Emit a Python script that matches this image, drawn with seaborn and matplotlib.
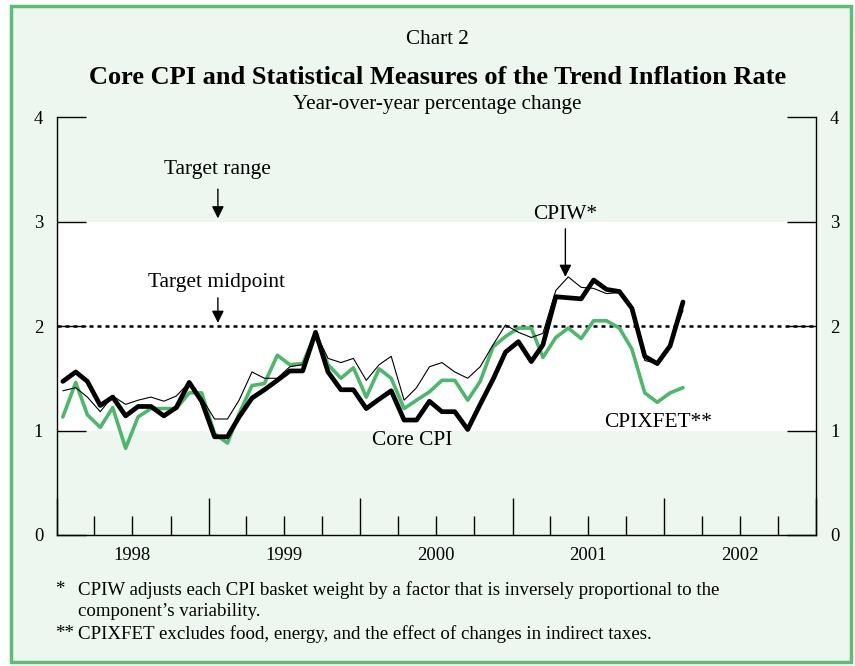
import matplotlib
matplotlib.use("Agg")
import pandas as pd
import seaborn as sns
import matplotlib.pyplot as plt
import matplotlib.dates as mdates
from matplotlib.patches import Rectangle
from matplotlib.ticker import FuncFormatter, NullFormatter


# monthly, Jan 1998 - Feb 2002 (plotted mid-month)
months = pd.date_range("1998-01-01", periods=50, freq="MS") + pd.Timedelta(days=14)

core_cpi = [1.47, 1.56, 1.47, 1.24, 1.32, 1.14, 1.23, 1.23, 1.14, 1.22,
            1.46, 1.28, 0.94, 0.94, 1.13, 1.31, 1.39, 1.48, 1.57, 1.57,
            1.94, 1.56, 1.39, 1.39, 1.21, 1.30, 1.38, 1.10, 1.10, 1.28,
            1.18, 1.18, 1.01, 1.25, 1.49, 1.75, 1.85, 1.66, 1.82, 2.28,
            2.27, 2.26, 2.44, 2.35, 2.33, 2.17, 1.71, 1.64, 1.81, 2.23]

cpiw = [1.38, 1.41, 1.32, 1.18, 1.33, 1.25, 1.29, 1.32, 1.28, 1.33,
        1.46, 1.31, 1.11, 1.11, 1.29, 1.56, 1.50, 1.50, 1.61, 1.63,
        1.94, 1.69, 1.65, 1.69, 1.48, 1.63, 1.71, 1.29, 1.41, 1.61,
        1.65, 1.56, 1.50, 1.61, 1.82, 2.01, 1.94, 1.89, 1.93, 2.34,
        2.47, 2.37, 2.36, 2.31, 2.32, 2.17, 1.67, 1.64, 1.81, 2.15]

cpixfet = [1.13, 1.46, 1.15, 1.03, 1.22, 0.83, 1.13, 1.21, 1.21, 1.21,
           1.36, 1.36, 0.97, 0.88, 1.16, 1.43, 1.45, 1.72, 1.63, 1.64,
           1.93, 1.63, 1.50, 1.60, 1.32, 1.59, 1.50, 1.21, 1.29, 1.37,
           1.48, 1.48, 1.29, 1.47, 1.80, 1.90, 1.98, 1.98, 1.70, 1.89,
           1.98, 1.88, 2.05, 2.05, 1.98, 1.78, 1.36, 1.27, 1.36, 1.41]

target_low, target_mid, target_high = 1, 2, 3
y_ticks = [0, 1, 2, 3, 4]

footnote_marks = ["*", "", "**"]
footnote_lines = [
    "CPIW adjusts each CPI basket weight by a factor that is inversely proportional to the",
    "component\u2019s variability.",
    "CPIXFET excludes food, energy, and the effect of changes in indirect taxes.",
]


sns.set_theme(style="ticks", rc={"text.color": "black", "xtick.color": "black",
                                 "ytick.color": "black", "axes.edgecolor": "black"})
plt.rcParams["font.family"] = ["Liberation Serif", "DejaVu Serif"]

mint = "#edf7ef"
green = "#4db86c"

fig = plt.figure(figsize=(8.55, 6.66), dpi=100)
fig.patch.set_facecolor("white")
fig.patches.append(Rectangle((0.013, 0.006), 0.982, 0.985, transform=fig.transFigure,
                             facecolor=mint, edgecolor="#5cbd73", lw=2.5, zorder=-10))

ax = fig.add_axes([0.0667, 0.1967, 0.8877, 0.6276])
ax.set_facecolor("none")
ax.axhspan(target_low, target_high, color="white", lw=0, zorder=0)
ax.axhline(target_mid, color="black", lw=1.8, dashes=(1.6, 1.6), zorder=1)

df = pd.DataFrame({"date": months, "Core CPI": core_cpi, "CPIW": cpiw, "CPIXFET": cpixfet})
sns.lineplot(data=df, x="date", y="CPIXFET", color=green, lw=2.6, ax=ax, zorder=2)
sns.lineplot(data=df, x="date", y="CPIW", color="black", lw=0.8, ax=ax, zorder=3)
sns.lineplot(data=df, x="date", y="Core CPI", color="black", lw=3.4, ax=ax, zorder=4)

ax.set_xlim(pd.Timestamp("1998-01-01"), pd.Timestamp("2003-01-01"))
ax.set_ylim(0, 4)
ax.set_xlabel("")
ax.set_ylabel("")
ax.spines["top"].set_visible(False)
for s in ["left", "right", "bottom"]:
    ax.spines[s].set_linewidth(1)

ax.xaxis.set_major_locator(mdates.YearLocator())
ax.xaxis.set_major_formatter(NullFormatter())
ax.xaxis.set_minor_locator(mdates.MonthLocator(bymonth=[4, 7, 10]))
ax.xaxis.set_minor_formatter(FuncFormatter(
    lambda v, p: str(mdates.num2date(v).year) if mdates.num2date(v).month == 7 else ""))
ax.tick_params(axis="x", which="major", direction="in", length=27, width=1)
ax.tick_params(axis="x", which="minor", direction="in", length=13.5, width=1,
               labelsize=13.4, pad=9)
ax.set_yticks(y_ticks)
ax.tick_params(axis="y", direction="in", length=21, width=1, left=True, right=True,
               labelleft=True, labelright=True, labelsize=13.4, pad=10)

arrow = dict(arrowstyle="-|>", color="black", lw=1, mutation_scale=18, shrinkA=0, shrinkB=0)
d = mdates.date2num
fs = 15.4
ax.text(d(pd.Timestamp("1999-01-23")), 3.50, "Target range", ha="center", va="center", fontsize=fs)
ax.annotate("", xy=(d(pd.Timestamp("1999-01-23")), 3.03), xytext=(d(pd.Timestamp("1999-01-23")), 3.31),
            arrowprops=arrow)
ax.text(d(pd.Timestamp("1999-01-20")), 2.42, "Target midpoint", ha="center", va="center", fontsize=fs)
ax.annotate("", xy=(d(pd.Timestamp("1999-01-23")), 2.03), xytext=(d(pd.Timestamp("1999-01-23")), 2.27),
            arrowprops=arrow)
ax.text(d(pd.Timestamp("2001-05-08")), 3.07, "CPIW*", ha="center", va="center", fontsize=fs)
ax.annotate("", xy=(d(pd.Timestamp("2001-05-08")), 2.47), xytext=(d(pd.Timestamp("2001-05-08")), 2.93),
            arrowprops=arrow)
ax.text(d(pd.Timestamp("2000-05-05")), 0.90, "Core CPI", ha="center", va="center", fontsize=fs)
ax.text(d(pd.Timestamp("2001-12-16")), 1.08, "CPIXFET**", ha="center", va="center", fontsize=fs)

fig.text(0.5117, 1 - 40 / 666, "Chart 2", ha="center", va="center", fontsize=15.2)
fig.text(0.5117, 1 - 77 / 666, "Core CPI and Statistical Measures of the Trend Inflation Rate",
         ha="center", va="center", fontsize=19, fontweight="bold")
fig.text(0.5117, 1 - 104 / 666, "Year-over-year percentage change", ha="center", va="center",
         fontsize=15.2)

for k, (mark, line) in enumerate(zip(footnote_marks, footnote_lines)):
    y = 1 - (590 + 22 * k) / 666
    fig.text(55 / 855, y, mark, ha="left", va="center", fontsize=13.6)
    fig.text(78 / 855, y, line, ha="left", va="center", fontsize=13.6)

fig.savefig("out.png", dpi=100)
